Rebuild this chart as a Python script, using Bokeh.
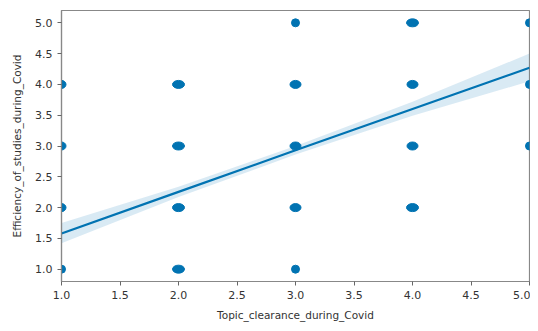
from bokeh.plotting import figure
from bokeh.embed import file_html
from bokeh.resources import INLINE
from bokeh.models import Range1d, FixedTicker, CustomJSTickFormatter

# Data points (Topic clearance vs Efficiency of studies)
pts_x = [1, 1, 1, 1, 2, 2, 2, 2, 3, 3, 3, 3, 3, 4, 4, 4, 4, 5, 5, 5]
pts_y = [1, 2, 3, 4, 1, 2, 3, 4, 1, 2, 3, 4, 5, 2, 3, 4, 5, 3, 4, 5]
# apparent horizontal spread of each dot (overlapping observations), in pixels
pt_w = [8, 9, 9, 9, 12, 12, 12, 12, 8, 11, 11, 11, 8, 12, 11, 11, 12, 8, 8, 8]

# Regression line and confidence band
fit_x = [1.0, 2.0, 3.0, 4.0, 5.0]
fit_y = [1.58, 2.255, 2.93, 3.60, 4.27]
ci_lo = [1.42, 2.17, 2.86, 3.49, 4.05]
ci_hi = [1.75, 2.34, 3.00, 3.72, 4.50]

x_ticks = [1.0, 1.5, 2.0, 2.5, 3.0, 3.5, 4.0, 4.5, 5.0]
y_ticks = [1.0, 1.5, 2.0, 2.5, 3.0, 3.5, 4.0, 4.5, 5.0]

BLUE = "#0173b2"

p = figure(width=530, height=323, output_backend="svg", toolbar_location=None,
           x_range=Range1d(1.0, 5.0), y_range=Range1d(0.8, 5.2),
           min_border_left=61, min_border_right=1, min_border_top=10, min_border_bottom=37)

p.varea(x=fit_x, y1=ci_lo, y2=ci_hi, fill_color=BLUE, fill_alpha=0.15)
p.ellipse(x=pts_x, y=pts_y, width=pt_w, height=8, width_units="screen", height_units="screen",
          fill_color=BLUE, line_color=BLUE)
p.line(fit_x, fit_y, line_color=BLUE, line_width=2.2)

p.xgrid.visible = False
p.ygrid.visible = False
p.outline_line_color = "#888888"
p.outline_line_width = 1.2

for ax in (p.xaxis[0], p.yaxis[0]):
    ax.axis_line_color = "#888888"
    ax.axis_line_width = 1.2
    ax.major_tick_line_color = "#666666"
    ax.major_tick_out = 4
    ax.major_tick_in = 0
    ax.minor_tick_line_color = None
    ax.major_label_text_font = "DejaVu Sans"
    ax.major_label_text_font_size = "11px"
    ax.major_label_text_color = "#333333"
    ax.axis_label_text_font = "DejaVu Sans"
    ax.axis_label_text_font_size = "10.5px"
    ax.axis_label_text_font_style = "normal"
    ax.axis_label_text_color = "#333333"

p.xaxis.ticker = FixedTicker(ticks=x_ticks)
p.yaxis.ticker = FixedTicker(ticks=y_ticks)
p.xaxis.formatter = CustomJSTickFormatter(code="return tick.toFixed(1);")
p.yaxis.formatter = CustomJSTickFormatter(code="return tick.toFixed(1);")
p.xaxis.axis_label = "Topic_clearance_during_Covid"
p.yaxis.axis_label = "Efficiency_of_studies_during_Covid"
p.xaxis.axis_label_standoff = 7
p.yaxis.axis_label_standoff = 9

open("out.html", "w").write(file_html(p, INLINE))
